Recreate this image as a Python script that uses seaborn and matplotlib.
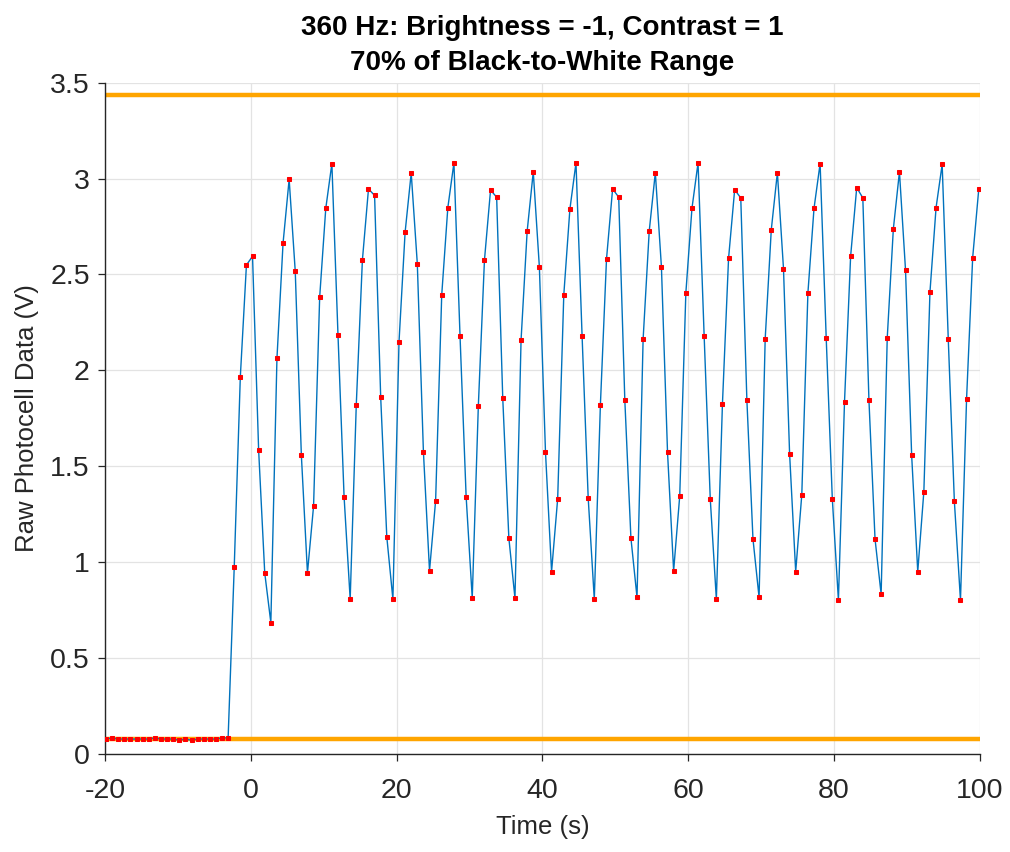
import numpy as np
import matplotlib
matplotlib.use("Agg")
import matplotlib.pyplot as plt
import seaborn as sns
from matplotlib.ticker import FuncFormatter


# ======================================================
# DATA
# ======================================================

T_START = -19.86      # time of first sample (s)
SAMPLE_DT = 0.8373    # sample spacing (s)

raw_volts = [
    # baseline before stimulus
    0.078, 0.084, 0.078, 0.078, 0.078, 0.078, 0.078, 0.078, 0.084, 0.078,
    0.078, 0.078, 0.072, 0.078, 0.072, 0.078, 0.078, 0.078, 0.078, 0.084,
    0.084,
    # flicker response
    0.973, 1.967, 2.549, 2.595, 1.584, 0.944, 0.685, 2.062, 2.663, 2.996,
    2.516, 1.558, 0.944, 1.292, 2.381, 2.844, 3.078, 2.187, 1.342, 0.807,
    1.821, 2.574, 2.946, 2.912, 1.860, 1.132, 0.807, 2.148, 2.720, 3.029,
    2.556, 1.576, 0.955, 1.321, 2.393, 2.848, 3.082, 2.179, 1.342, 0.813,
    1.815, 2.574, 2.940, 2.903, 1.855, 1.126, 0.813, 2.158, 2.726, 3.035,
    2.539, 1.576, 0.951, 1.331, 2.393, 2.840, 3.082, 2.179, 1.335, 0.807,
    1.821, 2.580, 2.946, 2.903, 1.846, 1.126, 0.817, 2.163, 2.726, 3.031,
    2.539, 1.572, 0.955, 1.346, 2.403, 2.844, 3.082, 2.179, 1.331, 0.807,
    1.827, 2.584, 2.942, 2.899, 1.846, 1.121, 0.817, 2.163, 2.733, 3.031,
    2.531, 1.566, 0.951, 1.352, 2.403, 2.844, 3.078, 2.169, 1.331, 0.802,
    1.837, 2.595, 2.953, 2.899, 1.846, 1.121, 0.833, 2.169, 2.737, 3.035,
    2.521, 1.558, 0.951, 1.368, 2.409, 2.848, 3.074, 2.163, 1.317, 0.802,
    1.852, 2.588, 2.946, 2.900,
]

white_level = 3.434   # top reference line (V)
black_level = 0.078   # bottom reference line (V)

x_ticks = [-20, 0, 20, 40, 60, 80, 100]
y_ticks = [0, 0.5, 1, 1.5, 2, 2.5, 3, 3.5]

title_text = "360 Hz: Brightness = -1, Contrast = 1\n70% of Black-to-White Range"


# ======================================================
# PLOT
# ======================================================

def main():

    sns.set_style("whitegrid")
    plt.rcParams["font.family"] = ["Liberation Sans", "DejaVu Sans"]

    time = T_START + SAMPLE_DT * np.arange(len(raw_volts))

    fig = plt.figure(figsize=(10.1, 8.52), dpi=100)
    ax = fig.add_axes([0.104, 0.115, 0.866, 0.788])

    # reference levels
    ax.axhline(white_level, color="#FFA500", lw=3.2, zorder=2)
    ax.axhline(black_level, color="#FFA500", lw=3.2, zorder=2)

    sns.lineplot(
        x=time,
        y=raw_volts,
        ax=ax,
        color="#0072BD",
        lw=1.0,
        marker="s",
        markersize=3.3,
        markerfacecolor="red",
        markeredgecolor="red",
        estimator=None,
        sort=False,
        zorder=3,
    )

    ax.set_xlim(-20, 100)
    ax.set_ylim(0, 3.5)
    ax.set_xticks(x_ticks)
    ax.set_yticks(y_ticks)
    ax.yaxis.set_major_formatter(FuncFormatter(lambda v, p: f"{v:g}"))
    ax.xaxis.set_major_formatter(FuncFormatter(lambda v, p: f"{v:g}"))

    ax.grid(True, color="#e3e3e3", lw=0.9)
    for side in ["top", "right"]:
        ax.spines[side].set_visible(False)
    for side in ["left", "bottom"]:
        ax.spines[side].set_color("#262626")
        ax.spines[side].set_linewidth(1.0)

    ax.tick_params(axis="both", which="major", direction="out", length=5,
                   width=0.9, color="#262626", labelsize=20.5,
                   labelcolor="#262626", bottom=True, left=True)
    ax.tick_params(axis="x", pad=12)
    ax.tick_params(axis="y", pad=6)

    ax.set_xlabel("Time (s)", fontsize=18.5, color="#262626", labelpad=8)
    ax.set_ylabel("Raw Photocell Data (V)", fontsize=18.5, color="#262626", labelpad=8)
    ax.set_title(title_text, fontsize=20, fontweight="bold", color="black",
                 linespacing=1.45, pad=9)

    fig.savefig("out.png", dpi=100)


if __name__ == "__main__":
    main()
